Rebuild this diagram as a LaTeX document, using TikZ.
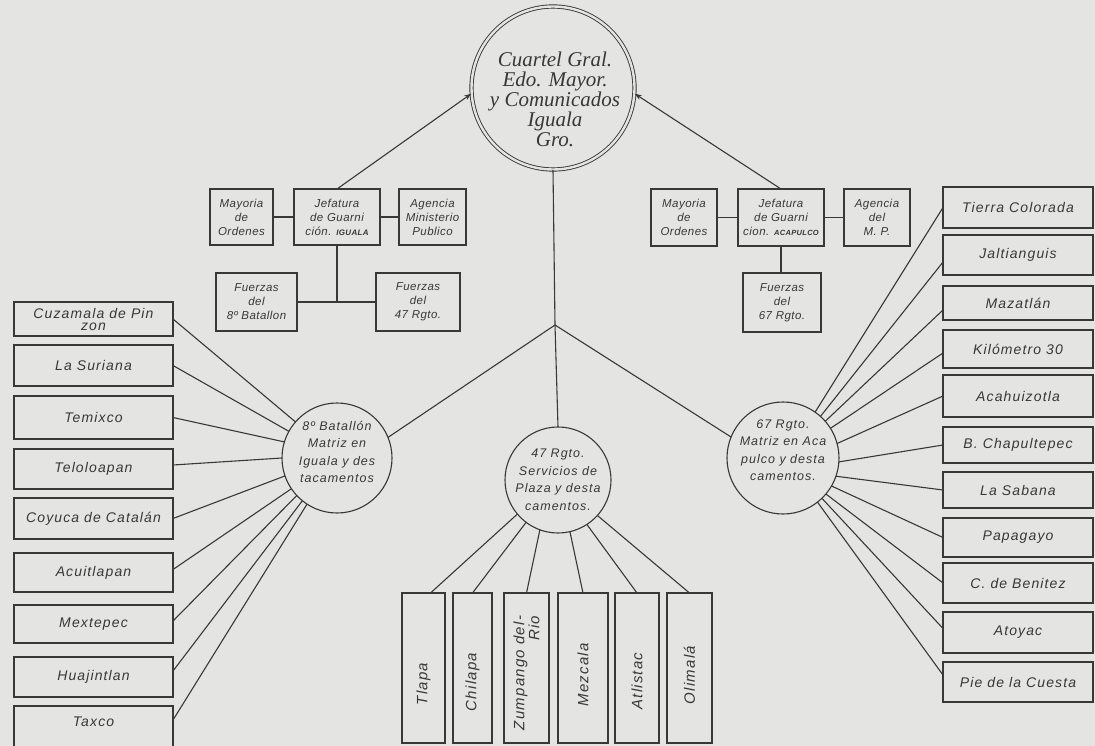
\documentclass[tikz,border=0pt]{standalone}
\usepackage{fontspec}
\newfontfamily\hand[LetterSpace=8]{Liberation Sans}
\newfontfamily\handS[LetterSpace=4]{Liberation Sans}
\newfontfamily\scriptf{Liberation Serif}
\usetikzlibrary{arrows.meta}
\definecolor{bg}{HTML}{E4E4E2}
\definecolor{ink}{HTML}{383838}
\newcommand\bxx[7]{\node[#1, minimum width={#5-#3}, minimum height={#6-#4}] (#2) at ({(#3+#5)/2},{(#4+#6)/2}) {#7};}
\tikzset{
  ln/.style={draw=ink, line width=1.1pt},
  box/.style={draw=ink, line width=1.1pt, inner sep=0pt, outer sep=0pt, align=center, text=ink},
  smallbox/.style={box, font=\handS\itshape\fontsize{11.5}{14}\selectfont},
  listtext/.style={align=center, text=ink, font=\hand\itshape\fontsize{14}{12}\selectfont},
  listbox/.style={box, listtext},
  vtext/.style={align=right, text=ink, rotate=90, font=\hand\itshape\fontsize{15}{12}\selectfont},
  circ/.style={circle, draw=ink, line width=1.1pt, inner sep=0pt, outer sep=0pt},
  ctext/.style={align=center, text=ink, font=\hand\itshape\fontsize{12.5}{17.5}\selectfont},
  hqtext/.style={align=center, text=ink, font=\scriptf\itshape\fontsize{21}{20}\selectfont},
  arr/.style={ln, -{Stealth[length=7pt,width=5pt]}},
}
\begin{document}
\begin{tikzpicture}[x=1pt,y=-1pt]
\path[fill=bg] (0,0) rectangle (1095,746);
\clip (0,0) rectangle (1095,746);
\useasboundingbox (0,0) rectangle (1095,746);

% headquarters
\node[circle, draw=ink, line width=0.9pt, double=bg, double distance=2.4pt, minimum size=163, inner sep=0pt] (hq) at (553,88) {};
\node[hqtext] (hqt) at (555,99) {Cuartel Gral.\\Edo. Mayor.\\y Comunicados\\Iguala\\Gro.};
\coordinate (j) at (555,325);

% left group
\bxx{smallbox}{mI}{210}{189}{273}{245}{Mayoria\\de\\Ordenes}
\bxx{smallbox}{jI}{294}{189}{380}{245}{Jefatura\\de Guarni\\ción. {\fontsize{8}{9}\selectfont\bfseries IGUALA}}
\bxx{smallbox}{aI}{399}{189}{466}{245}{Agencia\\Ministerio\\Publico}
\bxx{smallbox}{f8}{216}{273}{297}{331}{Fuerzas\\del\\8º Batallon}
\bxx{smallbox}{f47}{376}{273}{460}{331}{Fuerzas\\del\\47 Rgto.}

% right group
\bxx{smallbox}{mA}{651}{189}{717}{246}{Mayoria\\de\\Ordenes}
\bxx{smallbox}{jA}{738}{189}{824}{246}{Jefatura\\de Guarni\\cion. {\fontsize{7.5}{9}\selectfont\bfseries ACAPULCO}}
\bxx{smallbox}{aA}{844}{189}{910}{246}{Agencia\\del\\M. P.}
\bxx{smallbox}{f67}{743}{273}{821}{332}{Fuerzas\\del\\67 Rgto.}

% circles
\node[circ, minimum size=110, label={[ctext, yshift=6pt]center:8º Batallón\\Matriz en\\Iguala y des\\tacamentos}] (c8) at (337,458) {};
\node[circ, minimum size=106, label={[ctext]center:47 Rgto.\\Servicios de\\Plaza y desta\\camentos.}] (c47) at (558,480) {};
\node[circ, minimum size=112, label={[ctext, yshift=8pt]center:67 Rgto.\\Matriz en Aca\\pulco y desta\\camentos.}] (c67) at (783,458) {};

% left list
\bxx{listbox}{L1}{14}{302}{173}{336}{Cuzamala de Pin\\zon}
\bxx{listbox}{L2}{14}{345}{173}{386}{La Suriana}
\bxx{listbox}{L3}{14}{396}{173}{439}{Temixco}
\bxx{listbox}{L4}{14}{449}{173}{489}{Teloloapan}
\bxx{listbox}{L5}{14}{498}{173}{539}{Coyuca de Catalán}
\bxx{listbox}{L6}{14}{553}{173}{592}{Acuitlapan}
\bxx{listbox}{L7}{14}{605}{173}{643}{Mextepec}
\bxx{listbox}{L8}{14}{657}{173}{697}{Huajintlan}
\node[box, minimum width=159, minimum height=60, label={[listtext, yshift=14pt]center:Taxco}] (L9) at (93.5,736) {};

% right list
\bxx{listbox}{R1}{943}{187}{1093}{228}{Tierra Colorada}
\bxx{listbox}{R2}{943}{235}{1093}{275}{Jaltianguis}
\bxx{listbox}{R3}{943}{286}{1093}{320}{Mazatlán}
\bxx{listbox}{R4}{943}{330}{1093}{368}{Kilómetro 30}
\bxx{listbox}{R5}{943}{375}{1093}{417}{Acahuizotla}
\bxx{listbox}{R6}{943}{427}{1093}{463}{B. Chapultepec}
\bxx{listbox}{R7}{943}{472}{1093}{508}{La Sabana}
\bxx{listbox}{R8}{943}{518}{1093}{557}{Papagayo}
\bxx{listbox}{R9}{943}{563}{1093}{603}{C. de Benitez}
\bxx{listbox}{R10}{943}{612}{1093}{653}{Atoyac}
\bxx{listbox}{R11}{943}{662}{1093}{702}{Pie de la Cuesta}

% vertical boxes
\node[box, minimum width=43, minimum height=150, label={[vtext, xshift=-16pt]center:Tlapa}] (V1) at (423.5,668) {};
\node[box, minimum width=39, minimum height=150, label={[vtext, xshift=-14pt]center:Chilapa}] (V2) at (472.5,668) {};
\node[box, minimum width=45, minimum height=150, label={[vtext, xshift=-5pt]center:Zumpango del-\\Rio}] (V3) at (526.5,668) {};
\node[box, minimum width=50, minimum height=150, label={[vtext, xshift=-7pt]center:Mezcala}] (V4) at (583,668) {};
\node[box, minimum width=44, minimum height=150, label={[vtext, xshift=-13pt]center:Atlistac}] (V5) at (637,668) {};
\node[box, minimum width=45, minimum height=150, label={[vtext, xshift=-7pt]center:Olimalá}] (V6) at (689.5,668) {};

% connectors: top
\draw[arr] (jI.north) -- (hq.184);
\draw[arr] (jA.north) -- (hq.-4);
\draw[ln] (hq.south) -- (j);
\draw[ln] (j) -- (c8.22);
\draw[ln] (j) -- (c47.north);
\draw[ln] (j) -- (c67.158);

% left group connectors
\draw[ln] (mI.east) -- (jI.west);
\draw[ln] (jI.east) -- (aI.west);
\draw[ln] (jI.south) -- (jI.south |- f8.east);
\draw[ln] (f8.east) -- (f47.west);

% right group connectors
\draw[ln] (mA.east) -- (jA.west);
\draw[ln] (jA.east) -- (aA.west);
\draw[ln] (jA.south) -- (jA.south |- f67.north);

% left list connectors
\draw[ln] (L1.east) -- (c8.139);
\draw[ln] (L2.east) -- (c8.151);
\draw[ln] (L3.east) -- (c8.163);
\draw[ln] ([yshift=4pt]L4.east) -- (c8.180);
\draw[ln] (L5.east) -- (c8.199);
\draw[ln] ([yshift=3pt]L6.east) -- (c8.214);
\draw[ln] ([yshift=3pt]L7.east) -- (c8.223);
\draw[ln] ([yshift=6pt]L8.east) -- (c8.231);
\draw[ln] ([yshift=-14pt]L9.north east) -- (c8.237);

% right list connectors
\draw[ln] (c67.55) -- (R1.west);
\draw[ln] (c67.48) -- ([yshift=-7pt]R2.west);
\draw[ln] (c67.41) -- ([yshift=-7pt]R3.west);
\draw[ln] (c67.32) -- ([yshift=-4pt]R4.west);
\draw[ln] (c67.15) -- (R5.west);
\draw[ln] (c67.-4) -- (R6.west);
\draw[ln] (c67.-19) -- (R7.west);
\draw[ln] (c67.-30) -- (R8.west);
\draw[ln] (c67.-40) -- (R9.west);
\draw[ln] (c67.-46) -- ([yshift=4pt]R10.west);
\draw[ln] (c67.-52) -- ([yshift=7pt]R11.west);

% middle connectors
\draw[ln] (c47.220) -- ([xshift=7pt]V1.north);
\draw[ln] (c47.233) -- (V2.north);
\draw[ln] (c47.250) -- (V3.north);
\draw[ln] (c47.283) -- (V4.north);
\draw[ln] (c47.303) -- (V5.north);
\draw[ln] (c47.318) -- (V6.north);
\end{tikzpicture}
\end{document}
